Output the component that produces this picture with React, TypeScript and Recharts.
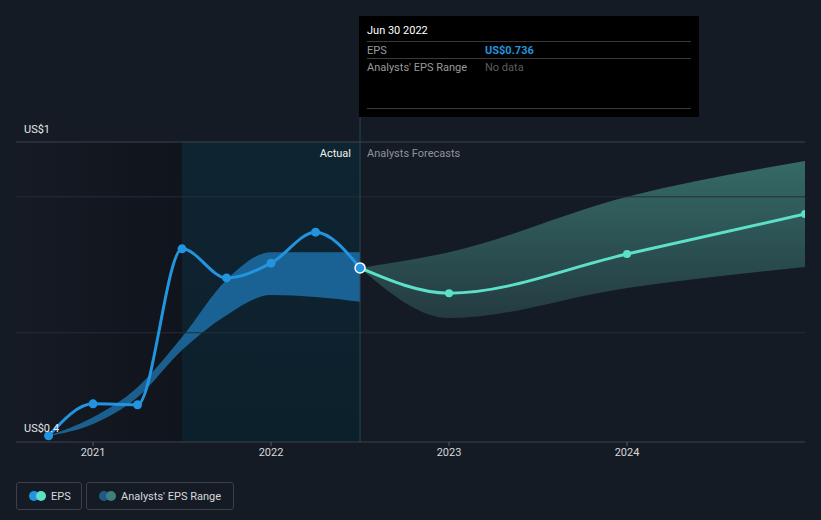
import React from 'react';
import { ComposedChart, Line, Area, XAxis, YAxis, ReferenceArea, ReferenceLine } from 'recharts';

// quarterly reported EPS (fractional year)
const epsDates = [2020.75, 2021.0, 2021.25, 2021.5, 2021.75, 2022.0, 2022.25, 2022.5];
const epsValues = [0.384, 0.451, 0.449, 0.776, 0.715, 0.746, 0.811, 0.736];
const pastRangeLow = [0.384, 0.409, 0.465, 0.564, 0.637, 0.679, 0.675, 0.665];
const pastRangeHigh = [0.384, 0.423, 0.486, 0.591, 0.711, 0.769, 0.769, 0.769];

// analysts forecasts
const forecastDates = [2022.5, 2023.0, 2024.0, 2025.0];
const forecastValues = [0.736, 0.683, 0.765, 0.849];
const forecastLow = [0.736, 0.631, 0.694, 0.738];
const forecastHigh = [0.736, 0.769, 0.885, 0.96];

const yearTicks = [2021, 2022, 2023, 2024];
const yLabels = ['US$1', 'US$0.4'];
const gridValues = [0.6, 0.885];

const X_MIN = 2020.567;
const X_MAX = 2025.0;
const Y_MIN = 0.371;
const Y_MAX = 1.0;
const TODAY = 2022.5;
const PAST_START = 2021.5;

type Row = {
  x: number;
  eps?: number;
  pastRange?: [number, number];
  fcst?: number;
  fcstRange?: [number, number];
};

const rowMap = new Map<number, Row>();
const getRow = (x: number) => {
  if (!rowMap.has(x)) rowMap.set(x, { x });
  return rowMap.get(x)!;
};
epsDates.forEach((d, i) => {
  const r = getRow(d);
  r.eps = epsValues[i];
  r.pastRange = [pastRangeLow[i], pastRangeHigh[i]];
});
forecastDates.forEach((d, i) => {
  const r = getRow(d);
  r.fcst = forecastValues[i];
  r.fcstRange = [forecastLow[i], forecastHigh[i]];
});
const rows = Array.from(rowMap.values()).sort((a, b) => a.x - b.x);

const BLUE = '#2394df';
const TEAL = '#5ce1c8';
const BG = '#151b25';

const EpsDot = (props: any) => {
  const { cx, cy, payload } = props;
  if (cx == null || cy == null) return null;
  if (payload.x === TODAY) {
    return <circle cx={cx} cy={cy} r={5} fill={BLUE} stroke="#fff" strokeWidth={1.5} />;
  }
  return <circle cx={cx} cy={cy} r={4.5} fill={BLUE} />;
};

const FcstDot = (props: any) => {
  const { cx, cy, payload } = props;
  if (cx == null || cy == null || payload.x === TODAY) return null;
  return <circle cx={cx} cy={cy} r={4} fill={TEAL} />;
};

const LegendItem = ({ label, c1, c2, width }: { label: string; c1: string; c2: string; width: number }) => (
  <div
    style={{
      width,
      height: 28,
      boxSizing: 'border-box',
      border: '1px solid #3b404a',
      borderRadius: 3,
      display: 'flex',
      alignItems: 'center',
      paddingLeft: 11,
      marginRight: 4,
      whiteSpace: 'nowrap',
    }}
  >
    <svg width={20} height={12} style={{ marginRight: 3, flexShrink: 0 }}>
      <circle cx={6} cy={6} r={5} fill={c1} />
      <circle cx={13} cy={6} r={5} fill={c2} />
    </svg>
    <span style={{ color: '#d7d9dc', fontSize: 11 }}>{label}</span>
  </div>
);

export default function App() {
  return (
    <div
      style={{
        position: 'fixed',
        left: 0,
        top: 0,
        width: 821,
        height: 520,
        background: BG,
        fontFamily: 'Roboto, sans-serif',
        overflow: 'hidden',
      }}
    >
      <ComposedChart
        width={821}
        height={520}
        data={rows}
        margin={{ top: 142, right: 16, bottom: 48, left: 16 }}
      >
        <defs>
          <linearGradient id="pastBg" x1="0" y1="0" x2="1" y2="0">
            <stop offset="0%" stopColor="#151a24" />
            <stop offset="100%" stopColor="#10141c" />
          </linearGradient>
          <linearGradient id="todayBg" x1="0" y1="0" x2="0" y2="1">
            <stop offset="0%" stopColor="#0f2431" />
            <stop offset="100%" stopColor="#0c202c" />
          </linearGradient>
          <linearGradient id="fcstFill" x1="0" y1="0" x2="0" y2="1">
            <stop offset="0%" stopColor="#356a66" />
            <stop offset="100%" stopColor="#243b41" />
          </linearGradient>
        </defs>
        <XAxis
          dataKey="x"
          type="number"
          domain={[X_MIN, X_MAX]}
          ticks={yearTicks}
          tickFormatter={(v: number) => String(Math.round(v))}
          axisLine={{ stroke: '#3d434d' }}
          tickLine={{ stroke: '#555b64' }}
          tickSize={4}
          tick={{ fill: '#d7d9dc', fontSize: 11 }}
          height={30}
          allowDataOverflow
        />
        <YAxis hide type="number" domain={[Y_MIN, Y_MAX]} allowDataOverflow />
        <ReferenceArea x1={X_MIN} x2={PAST_START} y1={Y_MIN} y2={Y_MAX} fill="url(#pastBg)" fillOpacity={1} stroke="none" />
        <ReferenceArea x1={PAST_START} x2={TODAY} y1={Y_MIN} y2={Y_MAX} fill="url(#todayBg)" fillOpacity={1} stroke="none" />
        {gridValues.map((g) => (
          <ReferenceLine key={g} y={g} stroke="#262d37" strokeWidth={1} />
        ))}
        <ReferenceLine y={Y_MAX} stroke="#3d434d" strokeWidth={1} />
        <ReferenceLine
          segment={[
            { x: TODAY, y: Y_MIN },
            { x: TODAY, y: 1.052 },
          ]}
          ifOverflow="visible"
          stroke="#27485a"
          strokeWidth={1}
        />
        <Area
          type="monotone"
          dataKey="pastRange"
          stroke="none"
          fill="#1f78b5"
          fillOpacity={0.75}
          isAnimationActive={false}
        />
        <Area
          type="monotone"
          dataKey="fcstRange"
          stroke="none"
          fill="url(#fcstFill)"
          fillOpacity={1}
          isAnimationActive={false}
        />
        <Line
          type="monotone"
          dataKey="fcst"
          stroke={TEAL}
          strokeWidth={3}
          dot={<FcstDot />}
          activeDot={false}
          isAnimationActive={false}
        />
        <Line
          type="monotone"
          dataKey="eps"
          stroke={BLUE}
          strokeWidth={3}
          dot={<EpsDot />}
          activeDot={false}
          isAnimationActive={false}
        />
      </ComposedChart>

      {/* y labels */}
      <div style={{ position: 'absolute', left: 24, top: 123, color: '#e6e7e9', fontSize: 11 }}>{yLabels[0]}</div>
      <div style={{ position: 'absolute', left: 24, top: 422, color: '#e6e7e9', fontSize: 11 }}>{yLabels[1]}</div>

      {/* section labels */}
      <div style={{ position: 'absolute', right: 821 - 351, top: 147, color: '#f0f1f2', fontSize: 11 }}>Actual</div>
      <div style={{ position: 'absolute', left: 367, top: 147, color: '#8d939b', fontSize: 11 }}>Analysts Forecasts</div>

      {/* tooltip */}
      <div
        style={{
          position: 'absolute',
          left: 359,
          top: 16,
          width: 340,
          height: 101,
          background: '#000',
          boxSizing: 'border-box',
          padding: '0 8px',
          fontSize: 11,
        }}
      >
        <div style={{ color: '#fff', height: 25, lineHeight: '30px' }}>Jun 30 2022</div>
        <div style={{ borderTop: '1px solid #3a3a3a', height: 16, display: 'flex', alignItems: 'center' }}>
          <span style={{ color: '#9a9a9a', width: 118 }}>EPS</span>
          <span style={{ color: BLUE, fontWeight: 700 }}>US$0.736</span>
        </div>
        <div style={{ borderTop: '1px solid #3a3a3a', height: 16, display: 'flex', alignItems: 'center' }}>
          <span style={{ color: '#9a9a9a', width: 118 }}>Analysts' EPS Range</span>
          <span style={{ color: '#5e5e5e' }}>No data</span>
        </div>
        <div style={{ position: 'absolute', left: 8, right: 8, top: 92, borderTop: '1px solid #3a3a3a' }} />
      </div>

      {/* legend */}
      <div style={{ position: 'absolute', left: 16, top: 482, display: 'flex' }}>
        <LegendItem label="EPS" c1={BLUE} c2={TEAL} width={66} />
        <LegendItem label="Analysts' EPS Range" c1="#1d5c87" c2="#3d8079" width={148} />
      </div>
    </div>
  );
}
